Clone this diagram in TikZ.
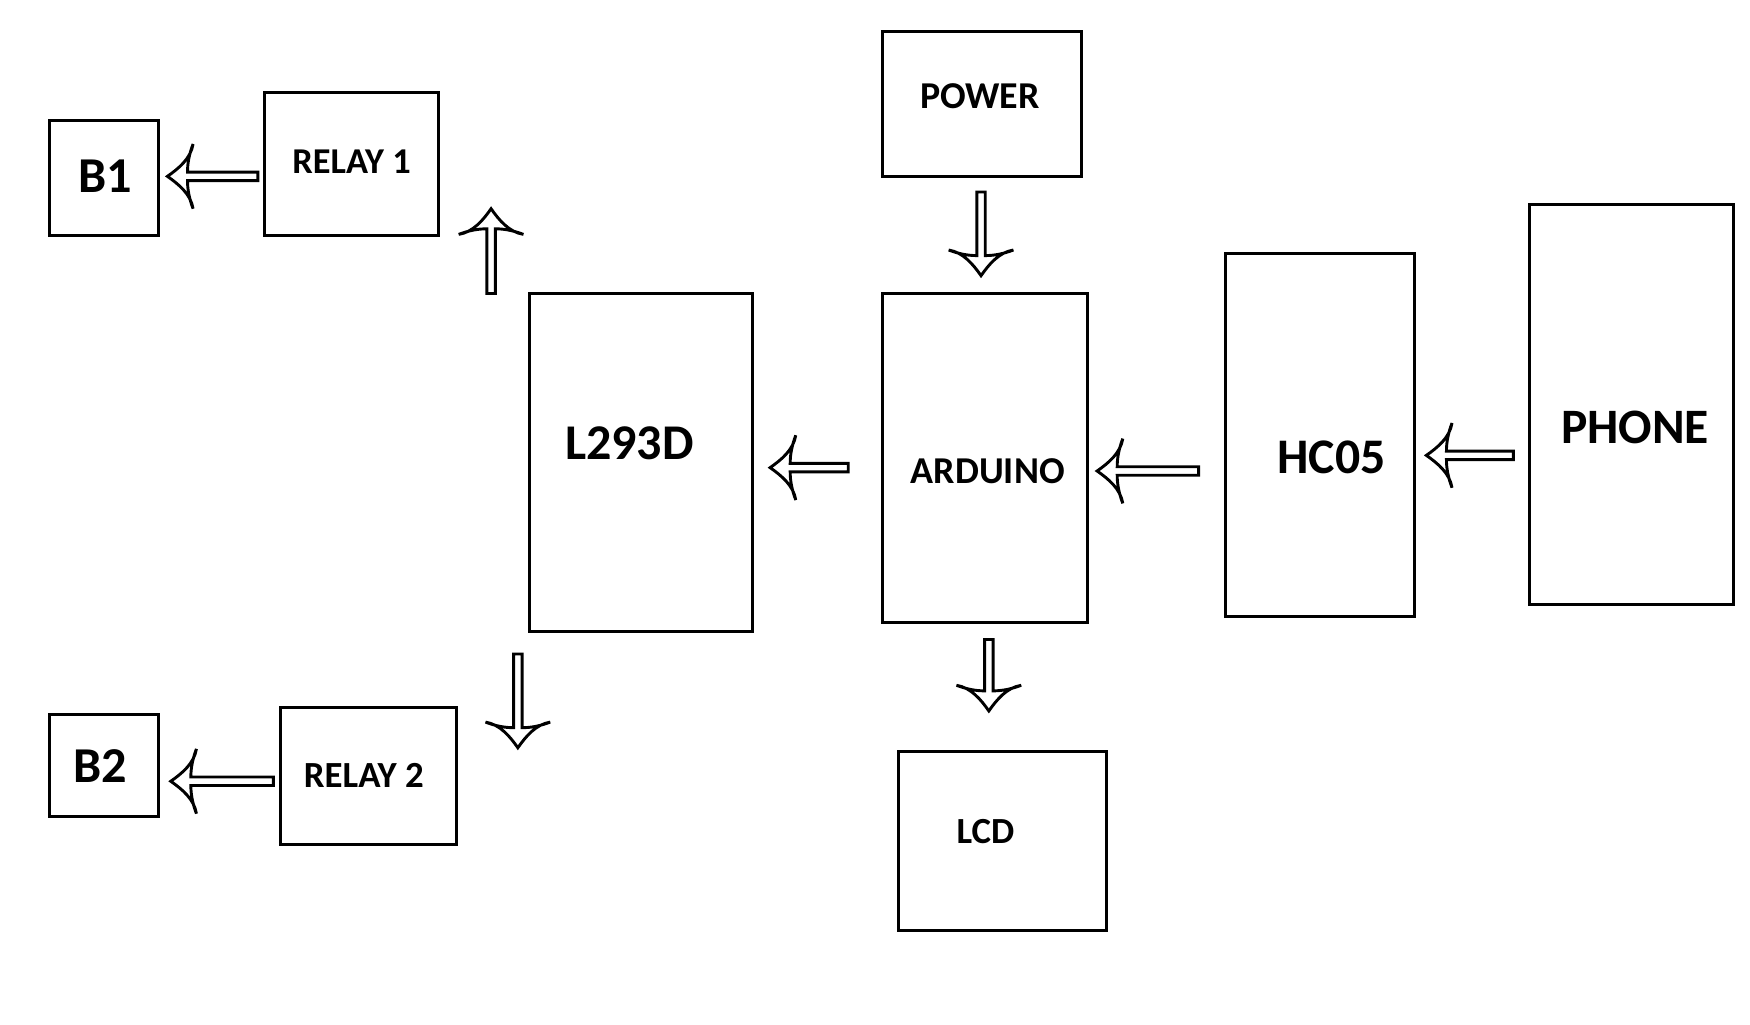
\documentclass[tikz,border=0pt]{standalone}
\usepackage{fontspec}
\setmainfont{Carlito}
\usetikzlibrary{decorations.markings}
\tikzset{
  box/.style 2 args={draw, line width=1.35pt, rectangle, inner sep=0pt,
    minimum width=#1*0.5pt, minimum height=#2*0.5pt},
  lbl/.style={font=\bfseries\fontsize{#1}{#1}\selectfont, inner sep=0pt},
  hollow/.style={postaction={decorate}, decoration={markings,
    mark=at position 1 with {
      \draw[line width=1.3pt, line join=miter, miter limit=3]
        (0pt,0pt) .. controls (-5pt,3.5pt) and (-10.5pt,8pt) .. (-11.5pt,14.5pt)
        .. controls (-9.8pt,10pt) and (-9pt,6pt) .. (-9pt,1.9pt)
        -- (-\pgfdecoratedpathlength,1.9pt) -- (-\pgfdecoratedpathlength,-1.9pt)
        -- (-9pt,-1.9pt)
        .. controls (-9pt,-6pt) and (-9.8pt,-10pt) .. (-11.5pt,-14.5pt)
        .. controls (-10.5pt,-8pt) and (-5pt,-3.5pt) .. cycle;
    }}}
}
\begin{document}
\begin{tikzpicture}[x=0.5pt,y=-0.5pt]
\useasboundingbox (0,0) rectangle (1568,917.5);
% boxes
\node[box={98}{103}] (b1) at (93,159.5) {};
\node[box={156}{128}] (relay1) at (315,147) {};
\node[box={178}{130}] (power) at (880,93) {};
\node[box={200}{303}] (l293d) at (574,414.5) {};
\node[box={183}{295}] (arduino) at (882.5,410.5) {};
\node[box={169}{325}] (hc05) at (1182.5,389.5) {};
\node[box={183}{359}] (phone) at (1461.5,362.5) {};
\node[box={158}{123}] (relay2) at (330,695.5) {};
\node[box={98}{92}] (b2) at (93,686) {};
\node[box={186}{161}] (lcd) at (898,753.5) {};
% labels
\node[lbl=22.5] (tb1) at (94,158) {B1};
\node[lbl=16.3] (trelay1) at (315,145) {RELAY 1};
\node[lbl=17] (tpower) at (878,86) {POWER};
\node[lbl=22.4] (tl293d) at (564,397) {L293D};
\node[lbl=17] (tarduino) at (885,422) {ARDUINO};
\node[lbl=22.3] (thc05) at (1193,410) {HC05};
\node[lbl=22.2] (tphone) at (1465,383) {PHONE};
\node[lbl=16.5] (trelay2) at (326,695) {RELAY 2};
\node[lbl=22.5] (tb2) at (90,686) {B2};
\node[lbl=16.5] (tlcd) at (883,745) {LCD};
% arrow end points
\coordinate (a1s) at (231,158);  \coordinate (a1e) at (150,158);
\coordinate (a2s) at (440,263);  \coordinate (a2e) at (440,187);
\coordinate (a3s) at (760,419);  \coordinate (a3e) at (690,419);
\coordinate (a4s) at (879,172);  \coordinate (a4e) at (879,247);
\coordinate (a5s) at (1074,422); \coordinate (a5e) at (983,422);
\coordinate (a6s) at (1356,408); \coordinate (a6e) at (1278,408);
\coordinate (a7s) at (464,586);  \coordinate (a7e) at (464,670);
\coordinate (a8s) at (245,700);  \coordinate (a8e) at (153,700);
\coordinate (a9s) at (886,573);  \coordinate (a9e) at (886,637);
% arrows
\path[hollow] (a1s) -- (a1e);
\path[hollow] (a2s) -- (a2e);
\path[hollow] (a3s) -- (a3e);
\path[hollow] (a4s) -- (a4e);
\path[hollow] (a5s) -- (a5e);
\path[hollow] (a6s) -- (a6e);
\path[hollow] (a7s) -- (a7e);
\path[hollow] (a8s) -- (a8e);
\path[hollow] (a9s) -- (a9e);
\end{tikzpicture}
\end{document}
